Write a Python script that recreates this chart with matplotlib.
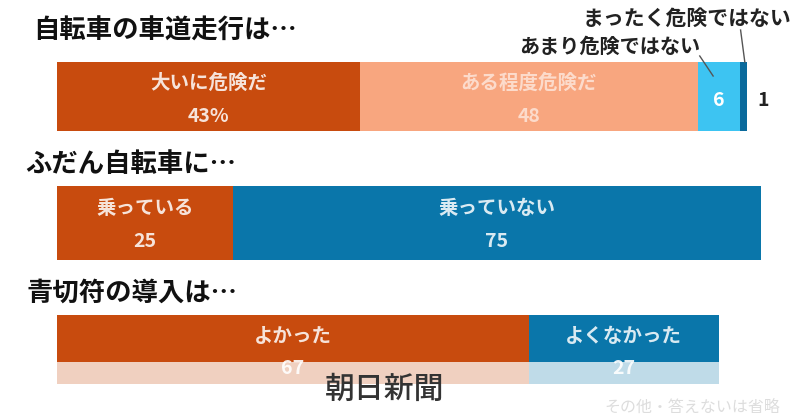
import matplotlib
matplotlib.use("Agg")
import matplotlib.pyplot as plt

plt.rcParams['font.family'] = ['Noto Sans CJK JP', 'DejaVu Sans']

# survey data (percent)
titles = ["自転車の車道走行は…", "ふだん自転車に…", "青切符の導入は…"]

q1_labels = ["大いに危険だ", "ある程度危険だ", "あまり危険ではない", "まったく危険ではない"]
q1_values = [43, 48, 6, 1]
q1_colors = ["#c84b0e", "#f8a67f", "#3dc4f2", "#0a6a9c"]

q2_labels = ["乗っている", "乗っていない"]
q2_values = [25, 75]
q2_colors = ["#c84b0e", "#0a76aa"]

q3_labels = ["よかった", "よくなかった"]
q3_values = [67, 27]
q3_colors = ["#c84b0e", "#0a76aa"]

footnote = "その他・答えないは省略"
watermark = "朝日新聞"

# figure in pixel units: x axis 0..100 percent maps to px 57..761
W, H = 800, 417
x0, ppu = 57, 7.04
fig = plt.figure(figsize=(W / 100, H / 100), dpi=100)
ax = fig.add_axes([0, 0, 1, 1])
ax.set_xlim(-x0 / ppu, (W - x0) / ppu)
ax.set_ylim(H, 0)
ax.axis("off")


def px(x):
    return (x - x0) / ppu


def stacked(values, colors, y, h):
    lefts = []
    acc = 0
    for v, c in zip(values, colors):
        ax.barh(y, v, left=acc, height=h, color=c, edgecolor="none")
        lefts.append(acc)
        acc += v
    return lefts


title_kw = dict(fontsize=19, fontweight="bold", color="#111111", va="center", ha="left")
inner_kw = dict(fontsize=14, fontweight="bold", ha="center", va="center")

# ---- question 1
ax.text(px(33), 31, titles[0], **title_kw)
y1, h1 = 96.5, 69
l1 = stacked(q1_values, q1_colors, y1, h1)
for i, alpha in [(0, 0.85), (1, 0.6)]:
    cx = l1[i] + q1_values[i] / 2
    ax.text(cx, 83, q1_labels[i], color="white", alpha=alpha, **inner_kw)
    val = "%d%%" % q1_values[i] if i == 0 else str(q1_values[i])
    ax.text(cx, 116, val, color="white", alpha=alpha, **inner_kw)
# small segments: value inside / outside, labels above with leader lines
cx = l1[2] + q1_values[2] / 2
ax.text(cx, 100, str(q1_values[2]), color="white", fontsize=14, fontweight="bold",
        ha="center", va="center")
ax.text(cx - 2.6, 46, q1_labels[2], color="#222222", fontsize=14.5, fontweight="bold",
        ha="right", va="center")
ax.plot([cx - 2.7, cx - 0.8], [56, 76], color="#555555", lw=1)
end = l1[3] + q1_values[3]
ax.text(end + 1.5, 100, str(q1_values[3]), color="#222222", fontsize=14,
        fontweight="bold", ha="left", va="center")
ax.text(end + 6.3, 18, q1_labels[3], color="#222222", fontsize=15, fontweight="bold",
        ha="right", va="center")
ax.plot([end - 0.9, end - 0.3], [30, 62], color="#555555", lw=1)

# ---- question 2
ax.text(px(25), 164, titles[1], **title_kw)
y2, h2 = 223, 74
l2 = stacked(q2_values, q2_colors, y2, h2)
for i in range(2):
    cx = l2[i] + q2_values[i] / 2
    ax.text(cx, 208, q2_labels[i], color="white", alpha=0.85, **inner_kw)
    ax.text(cx, 241, str(q2_values[i]), color="white", alpha=0.85, **inner_kw)

# ---- question 3 (lower part faded out)
ax.text(px(27), 293, titles[2], **title_kw)
y3, h3 = 349.5, 69
l3 = stacked(q3_values, q3_colors, y3, h3)
ax.barh(373, sum(q3_values), left=0, height=22, color="white", alpha=0.74,
        edgecolor="none")
for i in range(2):
    cx = l3[i] + q3_values[i] / 2
    ax.text(cx, 337, q3_labels[i], color="white", alpha=0.85, **inner_kw)
    ax.text(cx, 368, str(q3_values[i]), color="white", alpha=0.9, **inner_kw)

ax.text(px(385), 389, watermark, color="#333333", fontsize=21.5, fontweight="medium",
        ha="center", va="center")
ax.text(px(780), 407, footnote, color="#dddddd", fontsize=11.5, ha="right",
        va="center")

fig.savefig("out.png", dpi=100)
